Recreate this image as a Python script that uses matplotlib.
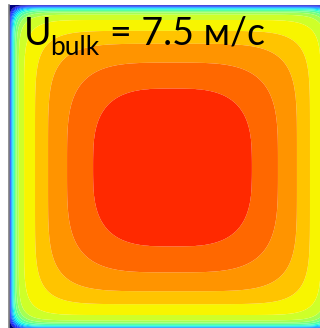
import numpy as np
import matplotlib
matplotlib.use('Agg')
import matplotlib.pyplot as plt

# wall-normal velocity profile along the duct midlines (distance in px from the wall, half width = 163.5 px)
wall_px = [0, 1, 2, 3, 4, 5, 6.5, 8, 10.5, 15, 26, 39, 58, 84, 120, 163.5]
u_profile = [0, 0.12, 0.22, 0.30, 0.37, 0.43, 0.49, 0.54, 0.59, 0.625,
             0.675, 0.725, 0.775, 0.825, 0.85, 0.865]
half_px = 163.5

# contour levels (jet, 0..1)
levels = np.arange(-0.025, 0.9, 0.05)

label_main = 'U'
label_sub = 'bulk'
label_rest = '= 7.5 м/с'


def exponent(r):
    # squarer isolines near the walls, rounder in the core
    return 3 + 11 * r ** 6 + 20 * r ** 30


n = 601
x = np.linspace(-1, 1, n)
X, Y = np.meshgrid(x, x)
ax_ = np.abs(X)
ay_ = np.abs(Y)

# every isoline is a superellipse whose exponent depends on its own size
r = np.maximum(ax_, ay_)
for _ in range(12):
    q = exponent(r)
    r = (ax_ ** q + ay_ ** q) ** (1 / q)
U = np.interp((1 - r) * half_px, wall_px, u_profile)

# band colours from jet at the band middles, the core band at the peak value
mids = (levels[:-1] + levels[1:]) / 2
mids[-1] = u_profile[-1]
colors = plt.cm.jet(mids)

fig = plt.figure(figsize=(3.2, 3.28), dpi=100)
ax = fig.add_axes([9 / 320, (328 - 330) / 328, 327 / 320, 325 / 328])
ax.contourf(X, Y, U, levels=levels, colors=colors, antialiased=True)
ax.set_xlim(-1, 1)
ax.set_ylim(-1, 1)
ax.set_xticks([])
ax.set_yticks([])
for s in ['top', 'right', 'bottom']:
    ax.spines[s].set_visible(False)
ax.spines['left'].set_color('#808080')
ax.spines['left'].set_linewidth(1.2)

font = ['Lato', 'DejaVu Sans']
fs = 27
fig.text(24 / 320, 1 - 45 / 328, label_main, fontsize=fs, family=font,
         ha='left', va='baseline')
fig.text(50 / 320, 1 - 55 / 328, label_sub, fontsize=fs * 0.7, family=font,
         ha='left', va='baseline')
fig.text(110 / 320, 1 - 45 / 328, label_rest, fontsize=fs, family=font,
         ha='left', va='baseline')

fig.savefig('out.png', dpi=100)
